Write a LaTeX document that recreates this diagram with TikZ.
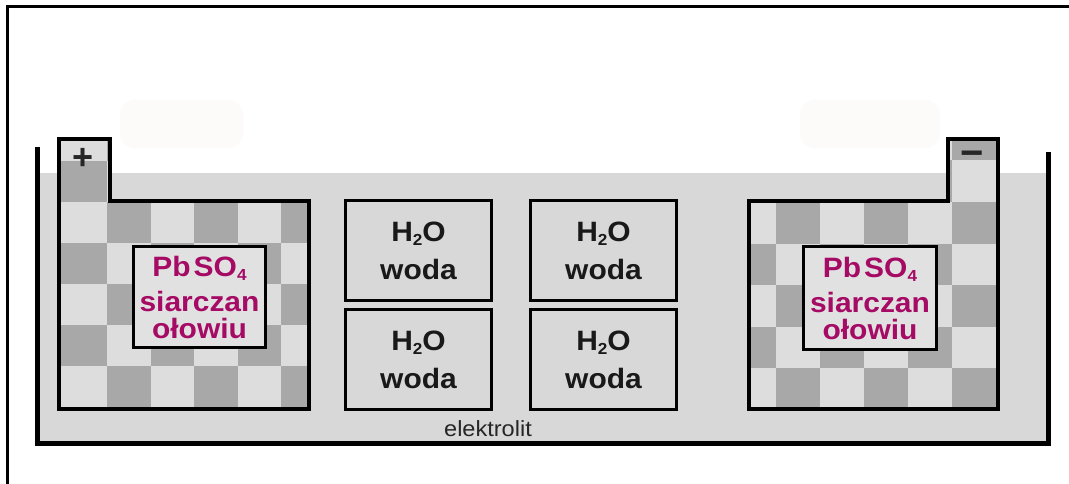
\documentclass[tikz,border=0pt]{standalone}
\usepackage{fontspec}
\setmainfont{Liberation Sans}
\newfontfamily\pixfont[FakeStretch=1.07]{Liberation Sans}
\definecolor{elec}{RGB}{216,216,216}
\definecolor{cklight}{RGB}{221,221,221}
\definecolor{ckdark}{RGB}{168,168,168}
\definecolor{boxfill}{RGB}{225,225,225}
\definecolor{pbtext}{RGB}{165,10,100}
\definecolor{ghost}{RGB}{253,250,250}
\newcommand\lowsub[1]{\raisebox{-4pt}{\fontsize{16}{16}\selectfont #1}}
\begin{document}
\begin{tikzpicture}[x=1pt,y=-1pt,
  wall/.style={line width=5pt, line join=miter},
  plate/.style={line width=4pt, line join=miter},
  waterbox/.style={draw, line width=3.5pt, fill=elec, minimum width=146pt, minimum height=100pt, inner sep=0pt, align=center, text=black!90, font=\pixfont\bfseries\fontsize{28}{38}\selectfont},
  saltbox/.style={draw, line width=3.5pt, fill=boxfill, inner sep=0pt, align=center, text=pbtext, font=\pixfont\bfseries\fontsize{28}{27}\selectfont},
  sign/.style={anchor=base, inner sep=0pt, font=\bfseries\fontsize{36}{36}\selectfont, text=black!85},
]
\useasboundingbox (0,0) rectangle (1069,484);
\fill[white] (0,0) rectangle (1069,484);
% frame
\draw[line width=3pt, line join=miter] (7,484) -- (7,7) -- (1069,7);
% faint ghost shapes
\fill[ghost, rounded corners=15pt] (120,100) rectangle (243,148);
\fill[ghost, rounded corners=15pt] (800,100) rectangle (940,148);
% electrolyte
\fill[elec] (39,173) rectangle (1046,441);
% left plate checker
\begin{scope}
\clip (59,139) -- (110,139) -- (110,201) -- (309,201) -- (309,409) -- (59,409) -- cycle;
\fill[cklight] (50,120) rectangle (320,420);
\foreach \k in {-1,...,6}{
  \foreach \j in {-2,...,4}{
    \pgfmathtruncatemacro\kk{max(\k,0)}
    \pgfmathtruncatemacro\pp{mod(\kk+\j+20,2)}
    \ifnum\pp=1
      \fill[ckdark] ({63.5+43.5*\k},{202+41*\j}) rectangle ++(43.5,41);
    \fi
  }
}
\end{scope}
\draw[plate] (59,139) -- (110,139) -- (110,201) -- (309,201) -- (309,409) -- (59,409) -- cycle;
% right plate checker
\begin{scope}
\clip (749,201) -- (948,201) -- (948,139) -- (998,139) -- (998,409) -- (749,409) -- cycle;
\fill[cklight] (740,120) rectangle (1010,420);
\foreach \k in {-1,...,6}{
  \foreach \j in {-2,...,4}{
    \pgfmathtruncatemacro\kk{max(\k,0)}
    \pgfmathtruncatemacro\pp{mod(\kk+\j+20,2)}
    \ifnum\pp=0
      \fill[ckdark] ({952-44*\k},{202+41.5*\j}) rectangle ++(44,41.5);
    \fi
  }
}
\end{scope}
\draw[plate] (749,201) -- (948,201) -- (948,139) -- (998,139) -- (998,409) -- (749,409) -- cycle;
% tank
\draw[wall] (37,147) -- (37,443) -- (1048,443) -- (1048,152);
% signs
\node[sign] (plus) at (83,170) {+};
\node[sign, font=\bfseries\fontsize{40}{40}\selectfont] (minus) at (972,167) {−};
% lead sulphate boxes
\node[saltbox, minimum width=132pt, minimum height=101pt] (saltL) at (199.5,297)
  {Pb\hspace{3pt}SO\lowsub{4}\\[8pt]siarczan\\ołowiu};
\node[saltbox, minimum width=133pt, minimum height=103pt] (saltR) at (870,298)
  {Pb\hspace{3pt}SO\lowsub{4}\\[8pt]siarczan\\ołowiu};
% water boxes
\node[waterbox] (w1) at (418.5,250.5) {H\lowsub{2}O\\woda};
\node[waterbox] (w2) at (418.5,359.5) {H\lowsub{2}O\\woda};
\node[waterbox] (w3) at (603.5,250.5) {H\lowsub{2}O\\woda};
\node[waterbox] (w4) at (603.5,359.5) {H\lowsub{2}O\\woda};
% electrolyte label
\node[anchor=base, inner sep=0pt, text=black!85, font=\pixfont\fontsize{22}{22}\selectfont] (elek) at (488,436) {elektrolit};
\end{tikzpicture}
\end{document}
